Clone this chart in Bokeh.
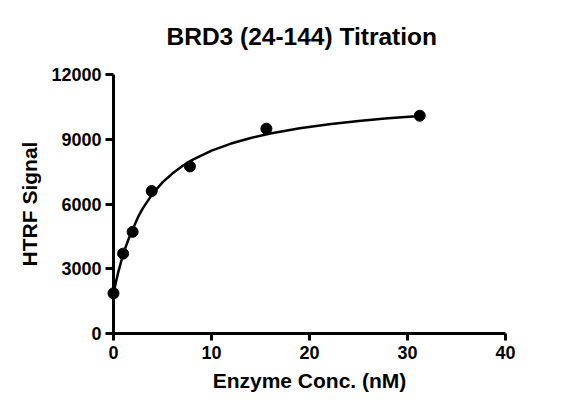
from bokeh.plotting import figure
from bokeh.models import Range1d, FixedTicker
from bokeh.embed import file_html
from bokeh.resources import INLINE

# Measured data points
conc = [0.0, 0.98, 1.95, 3.9, 7.8, 15.6, 31.25]
signal = [1860, 3700, 4710, 6600, 7740, 9490, 10090]

# Fitted curve
curve_x = [0, 0.25, 0.5, 1, 1.5, 2, 2.5, 3, 4, 5, 6, 7, 8, 10, 12, 14, 16, 19, 22, 25, 28, 31.25]
curve_y = [1850, 2390, 2870, 3700, 4330, 4880, 5390, 5810, 6480, 7000, 7410, 7750, 8030,
           8470, 8800, 9060, 9270, 9510, 9700, 9850, 9970, 10077]

x_ticks = [0, 10, 20, 30, 40]
y_ticks = [0, 3000, 6000, 9000, 12000]

FONT = "Liberation Sans"

p = figure(width=550, height=398, output_backend="svg", toolbar_location=None,
           x_range=Range1d(0, 40.0), y_range=Range1d(0, 12000),
           min_border_left=113, min_border_right=45, min_border_top=73, min_border_bottom=65,
           title="BRD3 (24-144) Titration")

p.title.text_font = FONT
p.title.text_font_size = "24.5px"
p.title.text_font_style = "bold"
p.title.align = "left"
p.title.offset = 53
p.title.vertical_align = "top"
p.title.text_color = "black"
p.title.standoff = 45

p.grid.visible = False
p.outline_line_color = None

p.line(curve_x, curve_y, line_color="black", line_width=2.5, level="overlay")
p.scatter(conc, signal, size=11, fill_color="black", line_color="black", level="overlay")

for ax in (p.xaxis[0], p.yaxis[0]):
    ax.axis_line_width = 3
    ax.axis_line_color = "black"
    ax.major_tick_line_width = 3
    ax.major_tick_line_color = "black"
    ax.major_tick_in = 0
    ax.minor_tick_line_color = None
    ax.major_label_text_font = FONT
    ax.major_label_text_font_size = "18px"
    ax.major_label_text_font_style = "bold"
    ax.major_label_text_color = "black"
    ax.axis_label_text_font = FONT
    ax.axis_label_text_font_size = "21px"
    ax.axis_label_text_font_style = "bold"
    ax.axis_label_text_color = "black"

xa = p.xaxis[0]
xa.ticker = FixedTicker(ticks=x_ticks)
xa.major_tick_out = 7
xa.major_label_standoff = 5
xa.axis_label = "Enzyme Conc. (nM)"
xa.axis_label_standoff = 7

ya = p.yaxis[0]
ya.ticker = FixedTicker(ticks=y_ticks)
ya.major_tick_out = 8
ya.major_label_standoff = 4
ya.axis_label = "HTRF Signal"
ya.axis_label_standoff = 7

open("out.html", "w").write(file_html(p, INLINE))
